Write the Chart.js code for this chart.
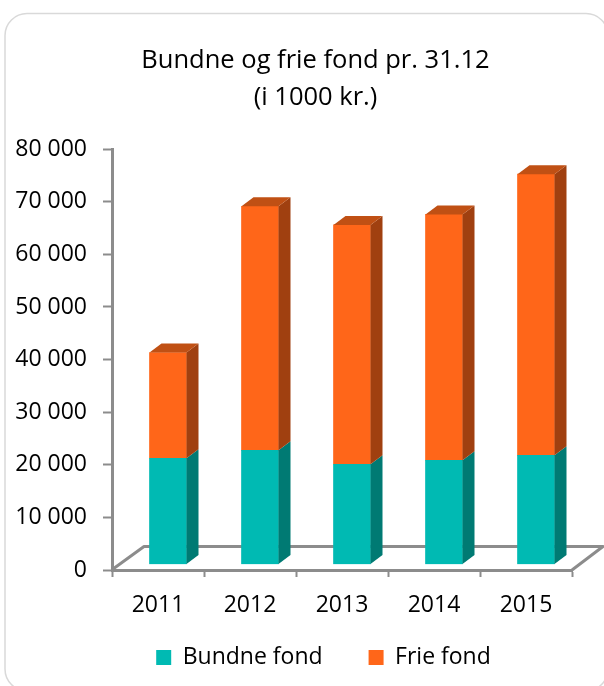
<!DOCTYPE html>
<html><head><meta charset="utf-8">
<style>html,body{margin:0;padding:0;background:#fff}canvas{display:block}</style>
<script src="https://cdn.jsdelivr.net/npm/chart.js@4"></script>
</head><body><canvas id="c" width="604" height="686"></canvas>
<script>
const years = ['2011','2012','2013','2014','2015'];
const bundneFond = [20200,21700,19050,19800,20750];
const frieFond = [20100,46400,45500,46750,53450];
const titleLines = ['Bundne og frie fond pr. 31.12','(i 1000 kr.)'];
const FONT = 'Open Sans';
const GREY = '#8c8c8c';
const frame = {
  id:'frame',
  beforeDraw(ch){
    const c=ch.ctx; c.save();
    c.fillStyle='#fff'; c.fillRect(0,0,604,686);
    c.strokeStyle='#d9d9d9'; c.lineWidth=1.5;
    c.beginPath(); c.roundRect(5,13.5,603,677.5,22); c.stroke();
    c.restore();
  },
  afterLayout(ch){
    const shift=(b,cx)=>{const d=cx-(b.left+b.right)/2;b.left+=d;b.right+=d;};
    shift(ch.titleBlock,315.5);
    shift(ch.legend,323.5);
    ch.legend.top-=30; ch.legend.bottom-=30;
  }
};
const depth3d = {
  id:'depth3d',
  beforeDatasetsDraw(ch){
    const c=ch.ctx,a=ch.chartArea; c.save();
    c.strokeStyle=GREY; c.lineWidth=3; c.lineJoin='round';
    c.beginPath();
    c.moveTo(a.left+1,a.bottom-1); c.lineTo(a.left+32,a.bottom-23.5);
    c.lineTo(a.right+31,a.bottom-23.5); c.lineTo(a.right,a.bottom);
    c.stroke();
    c.restore();
    c.save(); c.translate(10,-5.5);
  },
  afterDatasetsDraw(ch){
    const c=ch.ctx, dx=12, dy=9, n=ch.data.datasets.length;
    ch.data.datasets.forEach((ds,i)=>{
      ch.getDatasetMeta(i).data.forEach(b=>{
        const r=b.x+b.width/2, l=b.x-b.width/2;
        c.fillStyle=ds.sideColor;
        c.beginPath(); c.moveTo(r,b.y); c.lineTo(r+dx,b.y-dy); c.lineTo(r+dx,b.base-dy); c.lineTo(r,b.base); c.closePath(); c.fill();
        if(i===n-1){
          c.fillStyle=ds.topColor;
          c.beginPath(); c.moveTo(l,b.y); c.lineTo(l+dx,b.y-dy); c.lineTo(r+dx,b.y-dy); c.lineTo(r,b.y); c.closePath(); c.fill();
        }
      });
    });
    c.restore();
  }
};
new Chart(document.getElementById('c'),{
  type:'bar',
  data:{labels:years,datasets:[
    {label:'Bundne fond',data:bundneFond,backgroundColor:'#00BAB3',sideColor:'#007A73',topColor:'#009A94',barThickness:37},
    {label:'Frie fond',data:frieFond,backgroundColor:'#FF6619',sideColor:'#A04010',topColor:'#C05014',barThickness:37}
  ]},
  options:{
    responsive:false,animation:false,
    layout:{padding:{top:41.6,right:32,bottom:-23,left:8}},
    scales:{
      x:{stacked:true,
        afterFit(s){s.height=60;},
        grid:{drawOnChartArea:false,tickLength:7,tickColor:GREY,tickWidth:2,offset:true},
        border:{color:GREY,width:3},
        ticks:{color:'#000',font:{family:FONT,size:23},padding:15,maxRotation:0}},
      y:{stacked:true,min:0,max:80000,
        afterFit(s){s.width=104;},
        grid:{drawOnChartArea:false,tickLength:9,tickColor:GREY,tickWidth:2},
        border:{color:GREY,width:3},
        ticks:{stepSize:10000,color:'#000',font:{family:FONT,size:23},padding:16,
          callback:v=>String(v).replace(/\B(?=(\d{3})+$)/g,' ')}}
    },
    plugins:{
      title:{display:true,text:titleLines,color:'#000',font:{family:FONT,size:25.5,weight:'normal',lineHeight:1.47},padding:{top:0,bottom:32.6}},
      legend:{position:'bottom',labels:{color:'#000',font:{family:FONT,size:23},boxWidth:15,boxHeight:15,padding:46}},
      tooltip:{enabled:false}
    }
  },
  plugins:[frame,depth3d]
});
</script></body></html>
